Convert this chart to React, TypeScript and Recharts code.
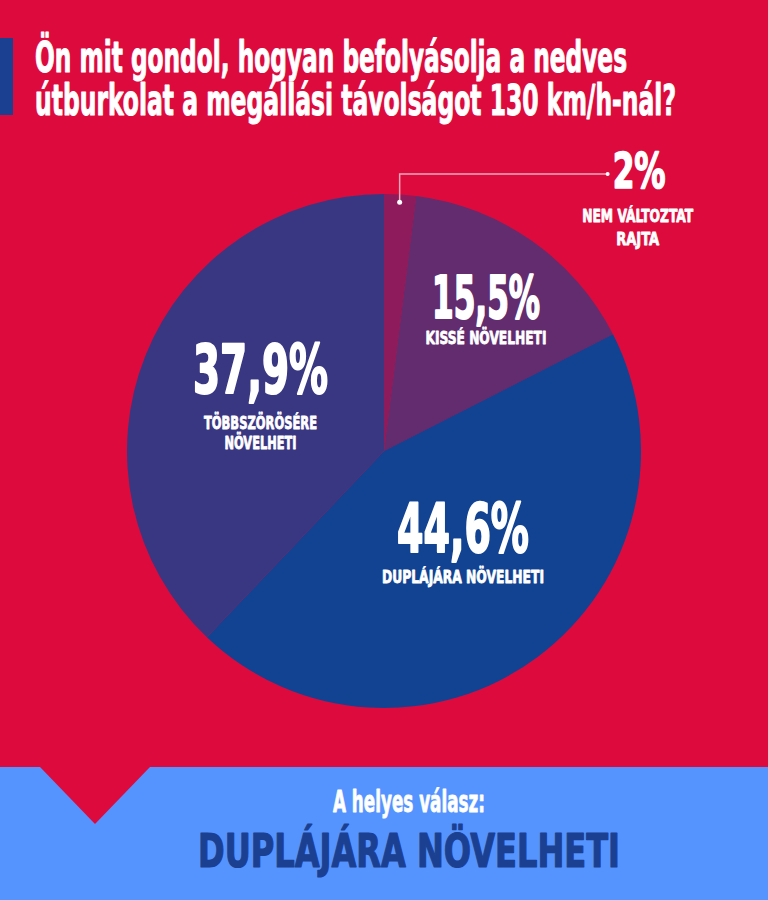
import React from "react"
import { PieChart, Pie, Cell } from "recharts"

// survey answers, clockwise from 12 o'clock
const CATEGORIES = ["Nem változtat rajta", "Kissé növelheti", "Duplájára növelheti", "Többszörösére növelheti"]
const SHARES = [2, 15.5, 44.6, 37.9]
const CAPTIONS = [["NEM VÁLTOZTAT", "RAJTA"], ["KISSÉ NÖVELHETI"], ["DUPLÁJÁRA NÖVELHETI"], ["TÖBBSZÖRÖSÉRE", "NÖVELHETI"]]

const TITLE = ["Ön mit gondol, hogyan befolyásolja a nedves", "útburkolat a megállási távolságot 130 km/h-nál?"]
const ANSWER_INTRO = "A helyes válasz:"
const ANSWER = "DUPLÁJÁRA NÖVELHETI"

const COLORS = ["#8E1B5B", "#622C6F", "#114392", "#3A3782"]
const RED = "#DD0B3D"
const BAND = "#5594FF"
const NAVY = "#1B3F91"
const FONT = "'Liberation Sans Narrow', 'DejaVu Sans Condensed', 'Liberation Sans', sans-serif"

// label placement (fraction of radius, angle nudge) and fitted text widths
const LABEL_LAYOUT = [
  { r: 0.97, da: 0, size: 49, numW: 53, lines: [{ dy: 34, w: 111 }, { dy: 57, w: 43 }] },
  { r: 0.652, da: -2.4, size: 58, numW: 108, lines: [{ dy: 26, w: 121 }] },
  { r: 0.499, da: 1.3, size: 68, numW: 132, lines: [{ dy: 31, w: 162 }] },
  { r: 0.531, da: -3.4, size: 67, numW: 135, lines: [{ dy: 36, w: 113 }, { dy: 56, w: 72 }] },
]

const data = CATEGORIES.map((name, i) => ({ name, value: SHARES[i] }))
const RAD = Math.PI / 180
const fmt = (v: number) => String(v).replace(".", ",") + "%"

// condensed heavy text, squeezed to the measured width and thickened with a stroke
function Txt({ x, y, w, size, anchor = "middle", fill = "#fff", heavy = 0.8, children }: any) {
  return (
    <text
      x={x}
      y={y}
      textAnchor={anchor}
      fontFamily={FONT}
      fontWeight={700}
      fontSize={size}
      fill={fill}
      stroke={fill}
      strokeWidth={heavy}
      strokeLinejoin="round"
      textLength={w}
      lengthAdjust="spacingAndGlyphs"
    >
      {children}
    </text>
  )
}

function renderLabel(props: any) {
  const { cx, cy, midAngle, outerRadius, index, value } = props
  const L = LABEL_LAYOUT[index]
  const a = (midAngle + L.da) * RAD
  const x = cx + outerRadius * L.r * Math.cos(a)
  const y = cy - outerRadius * L.r * Math.sin(a)

  if (index === 0) {
    // small slice: leader line up and out to the right
    const elbowY = cy - outerRadius - 20
    const endX = x + 208
    return (
      <g>
        <polyline points={`${x},${y} ${x},${elbowY} ${endX},${elbowY}`} fill="none" stroke="#F3A9BB" strokeWidth={1.5} />
        <circle cx={x} cy={y} r={2.5} fill="#fff" />
        <circle cx={endX} cy={elbowY} r={2} fill="#fff" />
        <Txt x={endX + 5} y={elbowY + 14} w={L.numW} size={L.size} anchor="start" heavy={1.6}>
          {fmt(value)}
        </Txt>
        {CAPTIONS[index].map((c, k) => (
          <Txt key={k} x={endX + 30} y={elbowY + L.lines[k].dy + 14} w={L.lines[k].w} size={18.5}>
            {c}
          </Txt>
        ))}
      </g>
    )
  }

  return (
    <g>
      <Txt x={x} y={y} w={L.numW} size={L.size} heavy={2}>
        {fmt(value)}
      </Txt>
      {CAPTIONS[index].map((c, k) => (
        <Txt key={k} x={x} y={y + L.lines[k].dy} w={L.lines[k].w} size={18.5}>
          {c}
        </Txt>
      ))}
    </g>
  )
}

export default function App() {
  return (
    <div style={{ position: "absolute", left: 0, top: 0, width: 768, height: 900, background: RED, overflow: "hidden" }}>
      <svg width={768} height={900} style={{ position: "absolute", left: 0, top: 0 }}>
        <rect x={0} y={38} width={13} height={77} fill={NAVY} />
        <Txt x={35} y={72} w={592} size={42} anchor="start" heavy={1}>
          {TITLE[0]}
        </Txt>
        <Txt x={35} y={115} w={641} size={42} anchor="start" heavy={1}>
          {TITLE[1]}
        </Txt>
        <rect x={0} y={767} width={768} height={133} fill={BAND} />
        <polygon points="40,767 150,767 95,824" fill={RED} />
        <Txt x={409} y={812} w={152} size={30} heavy={0.8}>
          {ANSWER_INTRO}
        </Txt>
        <Txt x={409} y={867} w={422} size={47} fill={NAVY} heavy={1.2}>
          {ANSWER}
        </Txt>
      </svg>
      <div style={{ position: "absolute", left: 0, top: 0 }}>
        <PieChart width={768} height={900} margin={{ top: 0, right: 0, bottom: 0, left: 0 }}>
          <Pie
            data={data}
            dataKey="value"
            nameKey="name"
            cx={384}
            cy={451}
            outerRadius={257}
            startAngle={90}
            endAngle={-270}
            stroke="none"
            label={renderLabel}
            labelLine={false}
            isAnimationActive={false}
          >
            {data.map((d, i) => (
              <Cell key={d.name} fill={COLORS[i]} stroke="none" />
            ))}
          </Pie>
        </PieChart>
      </div>
    </div>
  )
}
